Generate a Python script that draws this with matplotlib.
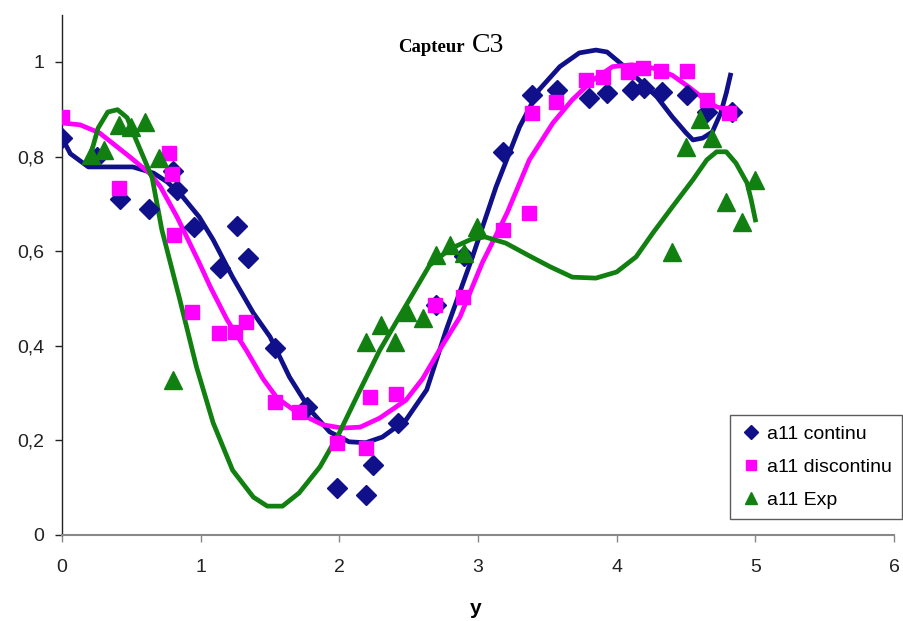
import matplotlib
matplotlib.use("Agg")
import matplotlib.pyplot as plt

### Data
cont_x = [0, 0.25, 0.42, 0.63, 0.80, 0.83, 0.95, 1.14, 1.26, 1.34, 1.535, 1.77, 1.98, 2.19, 2.24, 2.42,
          2.70, 2.90, 3.18, 3.39, 3.57, 3.80, 3.93, 4.11, 4.20, 4.33, 4.51, 4.65, 4.83]
cont_y = [0.84, 0.80, 0.71, 0.69, 0.77, 0.73, 0.65, 0.564, 0.653, 0.585, 0.395, 0.27, 0.10, 0.085, 0.148, 0.237,
          0.486, 0.59, 0.81, 0.93, 0.94, 0.924, 0.934, 0.94, 0.945, 0.937, 0.93, 0.894, 0.894]

disc_x = [0, 0.41, 0.77, 0.79, 0.81, 0.94, 1.13, 1.25, 1.33, 1.535, 1.71, 1.98, 2.19, 2.22, 2.41,
          2.69, 2.89, 3.18, 3.37, 3.39, 3.56, 3.78, 3.90, 4.08, 4.19, 4.32, 4.51, 4.65, 4.81]
disc_y = [0.884, 0.733, 0.808, 0.763, 0.634, 0.472, 0.427, 0.43, 0.45, 0.281, 0.26, 0.195, 0.184, 0.292, 0.298,
          0.486, 0.503, 0.645, 0.68, 0.892, 0.916, 0.962, 0.968, 0.979, 0.987, 0.981, 0.981, 0.92, 0.892]

exp_x = [0.21, 0.30, 0.41, 0.50, 0.60, 0.70, 0.80, 2.19, 2.30, 2.40, 2.49, 2.60, 2.70, 2.80, 2.90, 2.99,
         4.40, 4.50, 4.60, 4.69, 4.79, 4.90, 5.00]
exp_y = [0.803, 0.814, 0.867, 0.863, 0.873, 0.797, 0.328, 0.408, 0.444, 0.408, 0.472, 0.459, 0.592, 0.613, 0.596, 0.651,
         0.598, 0.82, 0.88, 0.839, 0.704, 0.662, 0.75]

# trend curves
cont_curve_x = [0, 0.06, 0.19, 0.51, 0.66, 0.76, 0.87, 0.99, 1.09, 1.23, 1.38, 1.50, 1.64, 1.79, 1.93, 2.07,
                2.19, 2.31, 2.48, 2.63, 2.77, 2.96, 3.13, 3.30, 3.44, 3.59, 3.73, 3.85, 3.93, 4.04, 4.16,
                4.29, 4.40, 4.50, 4.55, 4.62, 4.69, 4.75, 4.79, 4.82]
cont_curve_y = [0.84, 0.806, 0.778, 0.778, 0.765, 0.746, 0.715, 0.672, 0.624, 0.545, 0.469, 0.419, 0.334, 0.264, 0.218, 0.197,
                0.195, 0.207, 0.243, 0.307, 0.433, 0.588, 0.736, 0.863, 0.941, 0.99, 1.019, 1.025, 1.021, 0.994, 0.962,
                0.926, 0.884, 0.85, 0.835, 0.839, 0.852, 0.892, 0.934, 0.972]

disc_curve_x = [0, 0.13, 0.27, 0.49, 0.63, 0.71, 0.83, 0.99, 1.07, 1.19, 1.33, 1.45, 1.55, 1.69, 1.88, 2.02,
                2.15, 2.29, 2.48, 2.60, 2.72, 2.87, 3.03, 3.21, 3.37, 3.54, 3.68, 3.83, 3.97, 4.11, 4.26,
                4.40, 4.52, 4.62, 4.72, 4.81]
disc_curve_y = [0.871, 0.867, 0.85, 0.799, 0.765, 0.736, 0.672, 0.575, 0.524, 0.455, 0.39, 0.33, 0.29, 0.26, 0.233, 0.226,
                0.228, 0.247, 0.285, 0.33, 0.39, 0.461, 0.575, 0.681, 0.793, 0.871, 0.92, 0.962, 0.99, 0.994, 0.987,
                0.972, 0.947, 0.924, 0.905, 0.898]

exp_curve_x = [0.20, 0.26, 0.33, 0.40, 0.47, 0.51, 0.65, 0.72, 0.85, 0.97, 1.09, 1.23, 1.38, 1.48, 1.59, 1.71,
               1.86, 2.00, 2.15, 2.29, 2.44, 2.55, 2.65, 2.80, 2.95, 3.05, 3.20, 3.37, 3.52, 3.68, 3.85,
               4.00, 4.14, 4.26, 4.40, 4.55, 4.65, 4.72, 4.79, 4.86, 4.94, 4.97, 5.00]
exp_curve_y = [0.797, 0.86, 0.894, 0.899, 0.882, 0.852, 0.755, 0.645, 0.497, 0.355, 0.237, 0.137, 0.08, 0.061, 0.061, 0.089,
               0.144, 0.216, 0.307, 0.39, 0.465, 0.52, 0.57, 0.605, 0.625, 0.63, 0.617, 0.59, 0.567, 0.545, 0.543,
               0.556, 0.588, 0.638, 0.693, 0.751, 0.793, 0.81, 0.81, 0.786, 0.744, 0.708, 0.666]

x_ticks = [0, 1, 2, 3, 4, 5, 6]
y_ticks = [0, 0.2, 0.4, 0.6, 0.8, 1]
y_tick_labels = ["0", "0,2", "0,4", "0,6", "0,8", "1"]

navy = "#10108a"
pink = "#ff00ff"
green = "#118011"

plt.rcParams['font.family'] = ['Liberation Sans', 'DejaVu Sans']

fig = plt.figure(figsize=(9.04, 6.21), dpi=100)
ax = fig.add_axes([0.0686, 0.1385, 0.9204, 0.838])

ax.plot(cont_curve_x, cont_curve_y, color=navy, lw=3.4, solid_joinstyle="round", zorder=2)
ax.plot(disc_curve_x, disc_curve_y, color=pink, lw=3.4, solid_joinstyle="round", zorder=2)
ax.plot(exp_curve_x, exp_curve_y, color=green, lw=3.4, solid_joinstyle="round", zorder=2)

ax.plot(cont_x, cont_y, ls="none", marker="D", ms=10.5, color=navy, label="a11 continu", zorder=3)
ax.plot(disc_x, disc_y, ls="none", marker="s", ms=10.5, color=pink, label="a11 discontinu", zorder=3)
ax.plot(exp_x, exp_y, ls="none", marker="^", ms=12.5, color=green, label="a11 Exp", zorder=3)

ax.set_xlim(0, 6)
ax.set_ylim(0, 1.1)
ax.set_xticks(x_ticks)
ax.set_xticklabels([str(t) for t in x_ticks])
ax.set_yticks(y_ticks)
ax.set_yticklabels(y_tick_labels)
ax.tick_params(labelsize=14, length=5, width=1, colors="#222222")
ax.tick_params(axis="x", colors="#888888", labelcolor="#222222", pad=12)
ax.tick_params(axis="y", pad=8)

ax.spines["top"].set_visible(False)
ax.spines["right"].set_visible(False)
ax.spines["bottom"].set_color("#888888")
ax.spines["bottom"].set_linewidth(1.5)
ax.spines["left"].set_color("#222222")
ax.spines["left"].set_linewidth(1.0)

leg = ax.legend(loc="upper left", bbox_to_anchor=(0.803, 0.23), fontsize=14, frameon=True,
                fancybox=False, edgecolor="#333333", markerscale=0.7, handletextpad=0.3,
                handlelength=1.1, labelspacing=0.8, borderpad=0.5, borderaxespad=0)
leg.get_frame().set_linewidth(1.0)

fig.text(398 / 904, 1 - 52 / 621, "Capteur", family="Liberation Serif", weight="bold",
         fontsize=13.5, ha="left", va="baseline")
fig.text(472 / 904, 1 - 52 / 621, "C3", family="Liberation Serif", fontsize=20,
         ha="left", va="baseline")
fig.text(476 / 904, 1 - 608 / 621, "y", weight="bold", fontsize=15, ha="center", va="center")

fig.savefig("out.png", dpi=100)
